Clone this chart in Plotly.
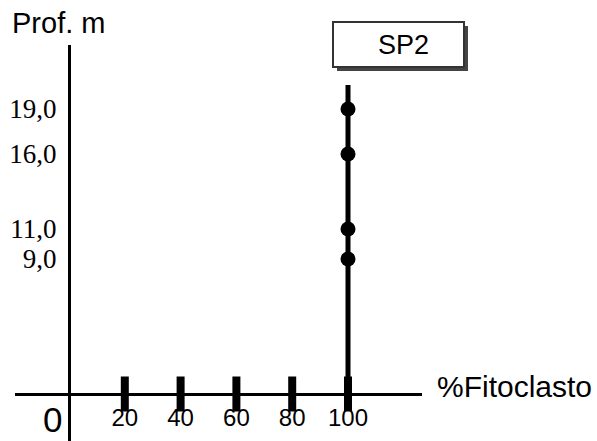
import plotly.graph_objects as go

# ---- data ----
depths = [9.0, 11.0, 16.0, 19.0]           # Prof. m
fito_pct = [100, 100, 100, 100]            # %Fitoclasto
depth_labels = ["9,0", "11,0", "16,0", "19,0"]
x_ticks = [20, 40, 60, 80, 100]
x_tick_labels = ["20", "40", "60", "80", "100"]
line_depth_range = [0.0, 20.6]             # vertical extent of the profile line
series_name = "SP2"

W, H = 597, 441
L, R, T, B = 15, 175, 45, 0
PW, PH = W - L - R, H - T - B

def xp(px):
    return (px - L) / PW

def yp(py):
    return (H - B - py) / PH

# axis ranges (pixel calibration)
sx = 2.79
x0 = -(69 - L) / sx
x1 = x0 + PW / sx
sy = 15.0
y1 = (394 - T) / sy
y0 = -(H - B - 394) / sy

SANS = "Liberation Sans"
SERIF = "Liberation Serif"

fig = go.Figure()

# tick bars on the x axis
fig.add_trace(go.Scatter(
    x=x_ticks, y=[0] * len(x_ticks), mode="markers",
    marker=dict(symbol="line-ns", size=25, line=dict(width=8, color="black")),
    hoverinfo="skip", showlegend=False, cliponaxis=False))

# profile line
fig.add_trace(go.Scatter(
    x=[fito_pct[0], fito_pct[0]], y=line_depth_range, mode="lines",
    line=dict(color="black", width=5), showlegend=False, cliponaxis=False))

# sample points
fig.add_trace(go.Scatter(
    x=fito_pct, y=depths, mode="markers",
    marker=dict(color="black", size=15), showlegend=False, cliponaxis=False))

# legend-like box SP2
fig.add_shape(type="rect", xref="paper", yref="paper",
              x0=xp(337), x1=xp(468), y0=yp(71), y1=yp(26),
              fillcolor="#444444", line=dict(width=0), layer="above")
fig.add_shape(type="rect", xref="paper", yref="paper",
              x0=xp(333), x1=xp(464), y0=yp(67), y1=yp(22),
              fillcolor="white", line=dict(width=2, color="#333333"), layer="above")
fig.add_annotation(text=series_name, xref="paper", yref="paper",
                   x=xp(403), y=yp(45), xanchor="center", yanchor="middle",
                   showarrow=False, font=dict(family=SANS, size=27, color="black"))

fig.add_annotation(text="Prof. m", xref="paper", yref="paper",
                   x=xp(10), y=yp(23), xanchor="left", yanchor="middle",
                   showarrow=False, font=dict(family=SANS, size=29, color="black"))
fig.add_annotation(text="%Fitoclasto", xref="paper", yref="paper",
                   x=xp(435), y=yp(386), xanchor="left", yanchor="middle",
                   showarrow=False, font=dict(family=SANS, size=30, color="black"))
fig.add_annotation(text="0", xref="paper", yref="paper",
                   x=xp(52), y=yp(419), xanchor="center", yanchor="middle",
                   showarrow=False, font=dict(family=SANS, size=35, color="black"))

fig.update_layout(
    width=W, height=H,
    margin=dict(l=L, r=R, t=T, b=B, pad=0),
    paper_bgcolor="white", plot_bgcolor="white",
    font=dict(family=SANS, color="black"),
    showlegend=False,
    xaxis=dict(range=[x0, x1], anchor="free", position=(H - B - 394) / PH,
               showline=True, linecolor="black", linewidth=3,
               showgrid=False, zeroline=False, ticks="",
               tickvals=x_ticks, ticktext=x_tick_labels,
               ticklabelstandoff=1,
               tickfont=dict(family=SANS, size=24, color="black"),
               automargin=False, fixedrange=True),
    yaxis=dict(range=[y0, y1], anchor="free", position=(69 - L) / PW,
               showline=True, linecolor="black", linewidth=3,
               showgrid=False, zeroline=False, ticks="",
               tickvals=depths, ticktext=depth_labels,
               ticklabelstandoff=6,
               tickfont=dict(family=SERIF, size=27, color="black"),
               automargin=False, fixedrange=True),
)

fig.write_html("out.html", config={"displayModeBar": False},
               post_script="document.body.style.margin='0';document.body.style.overflow='hidden';")
